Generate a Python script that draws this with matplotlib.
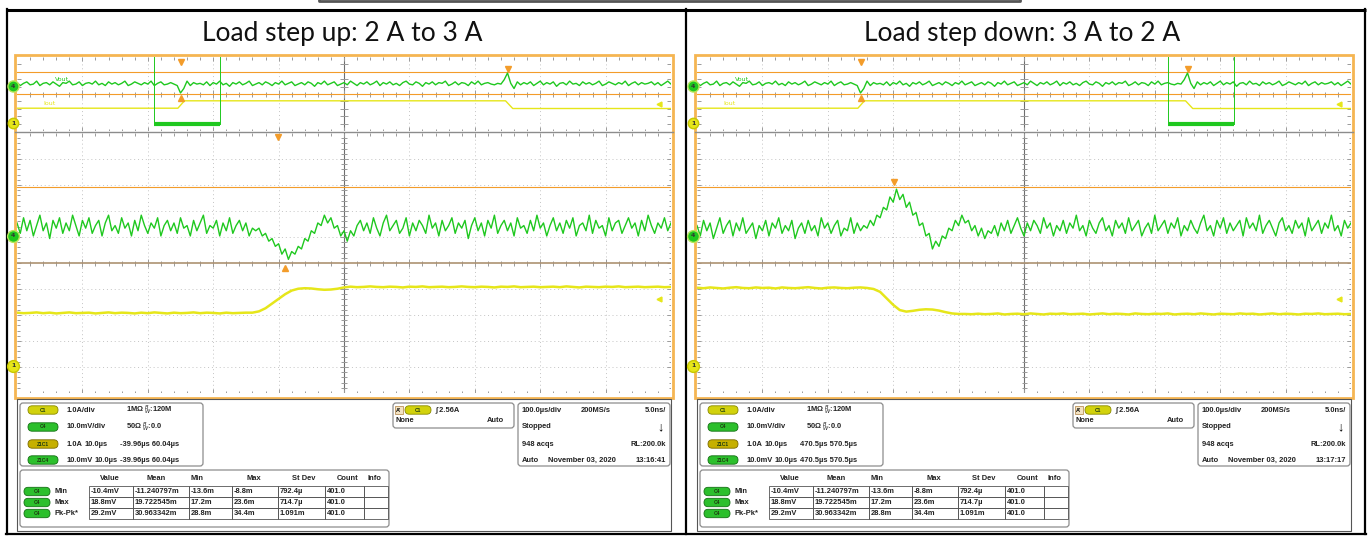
import numpy as np
import matplotlib
matplotlib.use('Agg')
import matplotlib.pyplot as plt
from matplotlib.patches import Rectangle, FancyBboxPatch
from matplotlib.collections import LineCollection
from matplotlib.transforms import blended_transform_factory
from matplotlib import font_manager as fm

# ---------------- values ----------------
titles = ['Load step up: 2 A to 3 A', 'Load step down: 3 A to 2 A']

# zoom windows (us), 10 us/div
zoom_t0 = [-39.96, 470.5]
zoom_t1 = [60.04, 570.5]
# full record shown in the overview strip (us), 100 us/div
rec_t0, rec_t1 = -250.0, 750.0

# channel offsets (div) and scales
c4_off = 1.04      # Vout, 10 mV/div
c1_off = -3.96     # Iout, 1 A/div
trig_level = 2.56  # A

# C4 Vout in zoom window, mV, 0.5 us steps
vout_up = [5, 1, 7, 2, 6, 0, 4, 8, 2, 5, -1, 6, 3, 7, 1, 5, 2, 8, 4, 0,
           6, 3, 7, 1, 4, 6, 0, 5, 8, 2, 4, 1, 7, 3, 5, 0, 6, 2, 8, 4,
           1, 5, 3, 7, 0, 4, 6, 2, 5, 1, 7, 3, 4, 0, 6, 2, 5, 8, 1, 4,
           3, 6, 0, 5, 2, 7, 1, 4, 6, 2, 5, 0, 3,
           2, 3, 0, 1, -2, -1, -4, -3, -7, -5, -9, -6, -7, -4, -5, -1,
           -2, 2, 1, 5, 4, 8, 5, 7, 3, 4, 0, 2, -2, 2, 0, 4,
           6, 2, 5, 1, 7, 3, 0, 5, 8, 2, 4, 6, 1, 3, 7, 0, 5, 2, 6, 4,
           1, 8, 3, 5, 0, 6, 2, 4, 7, 1, 5, 3, 6, -1, 4, 7, 2, 5, 0, 6,
           3, 8, 1, 4, 6, 2, 5, 0, 7, 3, 4, 1, 6, 2, 8, 3, 5, 0, 4, 7,
           2, 5, 1, 6, 3, 7, 0, 4, 5, 2, 8, 1, 6, 3, 4, 0, 7, 2, 5, 6,
           1, 4, 7, 3, 5, 0, 6, 2, 8, 4, 1, 5, 3, 7, 2, 5]
vout_down = [4, 0, 6, 2, 5, -1, 3, 7, 1, 4, 6, 0, 5, 2, 7, 1, 3, 5, -1, 4,
             2, 6, 0, 5, 3, 7, 1, 4, 2, 6, -1, 3, 5, 1, 6, 2, 4, 0, 7, 3,
             5, 1, 4, 6, 0, 3, 2, 7, 1, 5, 2, 4,
             3, 6, 4, 8, 7, 11, 10, 15, 13, 18, 14, 16, 11, 13, 8, 9, 4, 5,
             0, 1, -5, -2, -4, 0, -1, 3, 2, 6, 4, 8, 5, 6, 2, 4, 0, 3, -1, 2, 1, 4,
             0, 5, 2, 6, 1, 4, 7, 3, 0, 5, 2, 6, 4, 1, 7, 3, 5, 0, 4, 2,
             6, 1, 5, 3, 8, 2, 4, 0, 6, 3, 1, 5, 7, 2, 4, 0, 6, 3, 5, 1,
             7, 2, 4, 6, 0, 3, 5, 1, 8, 2, 4, 6, 1, 5, 3, 7, 0, 4, 2, 6,
             3, 1, 5, 8, 2, 4, 0, 6, 3, 7, 1, 5, 2, 4, 6, 0, 7, 3, 5, 2,
             8, 1, 4, 6, 3, 0, 5, 7, 2, 4, 1, 6, 3, 5, 0, 7, 2, 4, 6, 1,
             5, 3, 8, 2, 4, 0, 6, 3, 5]

# C1 Iout in zoom window, A, 1 us steps
iout_up = [2.05, 2.03, 2.04, 2.06, 2.03, 2.05, 2.02, 2.04, 2.06, 2.03,
           2.04, 2.05, 2.02, 2.04, 2.06, 2.03, 2.05, 2.04, 2.02, 2.05,
           2.03, 2.06, 2.04, 2.02, 2.05, 2.03, 2.04, 2.06, 2.03, 2.05,
           2.04, 2.02, 2.05, 2.03, 2.04, 2.05,
           2.05, 2.10, 2.22, 2.40, 2.58, 2.76, 2.90, 2.97, 2.99, 2.98,
           2.95, 2.93, 2.94, 2.97, 3.02,
           3.05, 3.03, 3.04, 3.06, 3.04, 3.03, 3.05, 3.04, 3.02, 3.05,
           3.04, 3.06, 3.03, 3.04, 3.05, 3.03, 3.04, 3.06, 3.04, 3.03,
           3.05, 3.04, 3.02, 3.05, 3.04, 3.06, 3.03, 3.04, 3.05, 3.03,
           3.04, 3.05, 3.03, 3.06, 3.04, 3.02, 3.05, 3.04, 3.03, 3.05,
           3.04, 3.06, 3.03, 3.04, 3.05, 3.03, 3.04, 3.05, 3.03, 3.04]
iout_down = [3.01, 2.99, 3.02, 3.00, 2.98, 3.01, 3.03, 3.00, 2.99, 3.02,
             3.00, 3.01, 2.98, 3.02, 3.00, 2.99, 3.01, 3.03, 3.00, 2.98,
             3.01, 3.02, 3.00, 2.99, 3.01, 3.02, 3.00,
             2.96, 2.85, 2.60, 2.35, 2.15, 2.09, 2.12, 2.16, 2.18, 2.17,
             2.13, 2.07, 2.02, 2.00, 2.00, 1.99,
             2.01, 1.99, 2.00, 2.02, 1.98, 2.00, 2.01, 1.99, 2.02, 2.00,
             1.98, 2.01, 2.00, 2.02, 1.99, 2.00, 2.01, 1.98, 2.00, 2.02,
             1.99, 2.01, 2.00, 1.98, 2.02, 2.00, 1.99, 2.01, 2.00, 2.02,
             1.98, 2.00, 2.01, 1.99, 2.02, 2.00, 1.98, 2.01, 2.00, 1.99,
             2.02, 2.00, 2.01, 1.98, 2.00, 2.02, 1.99, 2.01, 2.00, 1.98,
             2.01, 2.00, 2.02, 1.99, 2.00, 2.01, 1.99, 2.00]

# overview record, Vout mV, 5 us steps (same in both captures)
ov_vout = [5, 1, 4, 6, 2, 3, 7, 1, 4, 5, 2, 6, 3, 0, 5, 4, 7, 2, 3, 6,
           1, 4, 5, 3, 7, 2, 4, 1, 6, 3, 5, 2, 4, 7, 1, 3, 6, 4, 2, 5,
           3, 7, 1, 4, 6, 2, 3, 5,
           3, 1, -9, -3, 7, 1, 5, 3,
           4, 2, 6, 1, 5, 3, 7, 2, 4, 0, 5, 3, 6, 2, 4, 7, 1, 3, 5, 2,
           6, 4, 1, 5, 3, 7, 2, 4, 6, 1, 3, 5, 2, 6, 4, 0, 5, 3, 7, 2,
           4, 6, 1, 3, 5, 2, 7, 4, 1, 5, 3, 6, 2, 4, 7, 1, 5, 3, 6, 2,
           4, 1, 5, 7, 3, 2, 6, 4, 0, 5, 3, 6, 2, 5, 4, 7, 1, 3, 6, 2,
           5, 4, 1, 6, 3, 7, 2, 4, 5, 3,
           2, 4, 3, 9, 18, 4, -3, 6, 2,
           5, 3, 6, 1, 4, 7, 2, 5, 3, 6, 0, 4, 5, 2, 7, 3, 4, 1, 6, 3,
           5, 2, 4, 7, 1, 3, 6, 4, 2, 5, 3, 7, 1, 4, 6, 2, 5, 3, 4, 6,
           2, 5, 1, 4, 7, 3]
# overview record, Iout A (corner points of the steps)
ov_iout_t = [-250, -4, 6, 497, 508, 750]
ov_iout = [2.04, 2.04, 3.04, 3.04, 2.0, 2.0]

# measurement gates: time of min / max markers (us)
t_min = [1.0, 1.0]
t_max = [500.6, 500.6]
meas_min_mv = -10.4
meas_max_mv = 18.8

# readout panel text
ch_setup = [['C1', '1.0A/div', '1MΩ', '120M'],
            ['C4', '10.0mV/div', '50Ω', '0.0']]
zoom_setup = [['Z1C1', '1.0A', '10.0µs'], ['Z1C4', '10.0mV', '10.0µs']]
timestamps = ['13:16:41', '13:17:17']
meas_cols = ['Value', 'Mean', 'Min', 'Max', 'St Dev', 'Count', 'Info']
meas_rows = ['Min', 'Max', 'Pk-Pk*']
meas_vals = [['-10.4mV', '-11.240797m', '-13.6m', '-8.8m', '792.4µ', '401.0', ''],
             ['18.8mV', '19.722545m', '17.2m', '23.6m', '714.7µ', '401.0', ''],
             ['29.2mV', '30.963342m', '28.8m', '34.4m', '1.091m', '401.0', '']]

# ---------------- styling ----------------
GREEN = '#1fc81f'
YELLOW = '#e6e61a'
ORANGE = '#f39c2a'
BORDER = '#f5b552'
GRID = '#c4c4c4'
TICK = '#9a9a9a'

names = {f.name for f in fm.fontManager.ttflist}
FONT = [n for n in ('Liberation Sans Narrow', 'Liberation Sans') if n in names] + ['DejaVu Sans']
FS = 5.4

W, H = 1370, 536
fig = plt.figure(figsize=(W / 100, H / 100), dpi=100)
bg = fig.add_axes([0, 0, 1, 1])
bg.set_xlim(0, W)
bg.set_ylim(H, 0)
bg.axis('off')


def px_axes(x0, y0, x1, y1):
    ax = fig.add_axes([x0 / W, 1 - y1 / H, (x1 - x0) / W, (y1 - y0) / H])
    ax.axis('off')
    return ax


def graticule(ax, ppx, ppy, yminor=True, hgrid=True):
    a, b = ax.get_xlim()
    dt = (b - a) / 10
    hx = dt / ppx
    hy = 1.0 / ppy
    for k in range(1, 10):
        if k != 5:
            ax.axvline(a + k * dt, color=GRID, lw=0.7, ls=(0, (1, 3)), zorder=1)
    if hgrid:
        for k in range(-4, 5):
            if k != 0:
                ax.axhline(k, color=GRID, lw=0.7, ls=(0, (1, 3)), zorder=1)
    ax.axvline(a + 5 * dt, color='#6e6e6e', lw=0.8, zorder=1)
    segs = []
    for j in range(1, 50):
        x = a + j * dt / 5
        L = 4 if j % 5 == 0 else 2.5
        segs.append([(x, -L * hy), (x, L * hy)])
        segs.append([(x, 5), (x, 5 - L * hy)])
        segs.append([(x, -5), (x, -5 + L * hy)])
    ys = np.arange(-24, 25) / 5 if yminor else np.arange(-4, 5)
    for y in ys:
        L = 4 if abs(y - round(y)) < 1e-6 else 2.5
        c = a + 5 * dt
        segs.append([(c - L * hx, y), (c + L * hx, y)])
        segs.append([(a, y), (a + L * hx, y)])
        segs.append([(b, y), (b - L * hx, y)])
    ax.add_collection(LineCollection(segs, colors=TICK, lw=0.7, zorder=1))


def ch_marker(ax, y, label, fc, ring, size=8.5):
    tr = blended_transform_factory(ax.transAxes, ax.transData)
    ax.plot([-0.006], [y], 'o', ms=size, mfc=fc, mec=ring, mew=1.0,
            transform=tr, clip_on=False, zorder=8)
    ax.text(-0.006, y, label, transform=tr, ha='center', va='center',
            fontsize=4.5, color='#333333', weight='bold', zorder=9)


def level_marker(ax, y):
    tr = blended_transform_factory(ax.transAxes, ax.transData)
    ax.plot([0.982], [y], marker='<', ms=3.5, color=YELLOW, transform=tr,
            clip_on=False, zorder=8)


def txt(x, y, s, ha='left', size=FS, color='#222222'):
    bg.text(x, y, s, ha=ha, va='center', fontsize=size, weight='bold',
            family=FONT, color=color)


def rbox(x0, y0, x1, y1, r=3):
    bg.add_patch(FancyBboxPatch((x0, y0), x1 - x0, y1 - y0,
                                boxstyle='round,pad=0,rounding_size=%g' % r,
                                fc='white', ec='#8c8c8c', lw=0.9))


def pill(x, y, w, label, fc, ec):
    bg.add_patch(FancyBboxPatch((x, y - 4.2), w, 8.4,
                                boxstyle='round,pad=0,rounding_size=4.2',
                                fc=fc, ec=ec, lw=0.6))
    bg.text(x + w / 2, y, label, ha='center', va='center', fontsize=3.6,
            weight='bold', family=FONT, color='#1d3a10')


PILL_Y = ('#d2d20c', '#8a8a00')
PILL_G = ('#2cbf2c', '#137013')
PILL_Z = ('#c6b000', '#7a6a00')

# ---------------- page table ----------------
bg.plot([6, 1366], [9.5, 9.5], color='black', lw=2.2, solid_capstyle='butt')
for x in (7, 686, 1365):
    bg.plot([x, x], [9, 534], color='black', lw=1.6)
bg.plot([6, 1366], [533.5, 533.5], color='black', lw=1.6)
bg.plot([319, 319, 1020, 1020], [0, 1, 1, 0], color='#555555', lw=2)

for p in range(2):
    dx = 680 * p
    t0, t1 = zoom_t0[p], zoom_t1[p]
    vout = np.array(vout_up if p == 0 else vout_down, dtype=float)
    iout = np.array(iout_up if p == 0 else iout_down, dtype=float)

    bg.text(342 + dx, 34, titles[p], ha='center', va='center', fontsize=19,
            family=['Lato', 'DejaVu Sans'], color='#111111')

    # scope screen frame
    bg.add_patch(Rectangle((15 + dx, 55), 658, 343, fill=False, ec=BORDER, lw=2.0))
    bg.plot([15 + dx, 673 + dx], [132, 132], color='#8c8c8c', lw=1.0)

    # ---------- overview strip ----------
    ov = px_axes(17 + dx, 57, 671 + dx, 131)
    ov.set_xlim(rec_t0, rec_t1)
    ov.set_ylim(-5, 5)
    graticule(ov, 65.4, 7.4, yminor=False, hgrid=False)
    ov.axhline(c4_off + meas_max_mv / 10, color=ORANGE, lw=0.8, zorder=2)
    ov.axhline(c4_off + meas_min_mv / 10, color=ORANGE, lw=0.8, zorder=2)
    tov = np.linspace(rec_t0, rec_t1, len(ov_vout))
    ov.plot(tov, c4_off + np.array(ov_vout) / 10, color=GREEN, lw=1.0, zorder=4)
    ov.plot(ov_iout_t, c1_off + np.array(ov_iout), color=YELLOW, lw=1.0, zorder=3)
    ov.plot([t0, t0], [-4.1, 5], color=GREEN, lw=0.7, zorder=3)
    ov.plot([t1, t1], [-4.1, 5], color=GREEN, lw=0.7, zorder=3)
    ov.plot([t0, t1], [-4.1, -4.1], color=GREEN, lw=3, solid_capstyle='butt', zorder=3)
    ov.plot([0], [4.3], 'v', ms=4.5, color=ORANGE, zorder=6)
    ov.plot([t_min[p]], [c4_off + meas_min_mv / 10 - 0.6], '^', ms=4.5, color=ORANGE, zorder=6)
    ov.plot([t_max[p]], [c4_off + meas_max_mv / 10 + 0.5], 'v', ms=4.5, color=ORANGE, zorder=6)
    ov.text(0.058, 2.0, 'Vout', transform=blended_transform_factory(ov.transAxes, ov.transData),
            fontsize=4.5, color=GREEN, va='center')
    ov.text(0.041, -1.35, 'Iout', transform=blended_transform_factory(ov.transAxes, ov.transData),
            fontsize=4.5, color=YELLOW, va='center')
    ch_marker(ov, c4_off, '4', GREEN, '#b6e65a', size=8)
    ch_marker(ov, c1_off, '1', YELLOW, '#c8c800', size=7.5)
    level_marker(ov, c1_off + trig_level)

    # ---------- zoomed main window ----------
    mn = px_axes(17 + dx, 133, 671 + dx, 393)
    mn.set_xlim(t0, t1)
    mn.set_ylim(-5, 5)
    graticule(mn, 65.4, 26)
    mn.axhline(c4_off + meas_max_mv / 10, color=ORANGE, lw=0.8, zorder=2)
    mn.axhline(c4_off + meas_min_mv / 10, color='#ad9272', lw=1.2, zorder=2)
    tv = np.linspace(t0, t1, len(vout))
    mn.plot(tv, c4_off + vout / 10, color=GREEN, lw=1.0, zorder=4)
    ti = np.linspace(t0, t1, len(iout))
    mn.plot(ti, c1_off + iout, color=YELLOW, lw=1.8, zorder=3)
    if t0 <= 0 <= t1:
        mn.plot([0], [4.85], 'v', ms=4.5, color=ORANGE, zorder=6, clip_on=False)
    if t0 <= t_min[p] <= t1:
        mn.plot([t_min[p]], [c4_off + meas_min_mv / 10 - 0.2], '^', ms=5, color=ORANGE, zorder=6)
    if t0 <= t_max[p] <= t1:
        mn.plot([t_max[p]], [c4_off + meas_max_mv / 10 + 0.2], 'v', ms=5, color=ORANGE, zorder=6)
    ch_marker(mn, c4_off, '4', GREEN, '#b6e65a')
    ch_marker(mn, c1_off, '1', YELLOW, '#c8c800')
    level_marker(mn, c1_off + trig_level)

    # ---------- readout area ----------
    bg.add_patch(Rectangle((17 + dx, 399), 654, 132, fill=False, ec='#555555', lw=0.8))

    # channel setup box
    rbox(20 + dx, 403, 203 + dx, 466)
    rows_y = [410, 427, 444, 460]
    for r, (lab, scale, imp, bw) in enumerate(ch_setup):
        pill(28 + dx, rows_y[r], 30, lab, *(PILL_Y if r == 0 else PILL_G))
        txt(67 + dx, rows_y[r], scale)
        txt(126 + dx, rows_y[r], imp + ' $^{B}_{W}$:' + bw)
    zpos = '%gµs %gµs' % (t0, t1)
    for r, (lab, sc, tdiv) in enumerate(zoom_setup):
        y = rows_y[r + 2]
        pill(28 + dx, y, 30, lab, *(PILL_Z if r == 0 else PILL_G))
        txt(67 + dx, y, sc)
        txt((85 if r == 0 else 95) + dx, y, tdiv)
        txt(120 + dx, y, zpos)

    # trigger box
    rbox(393 + dx, 403, 514 + dx, 428)
    bg.add_patch(Rectangle((395 + dx, 406), 8, 8, fc='#f3e3c3', ec='#b08040', lw=0.5))
    bg.text(399 + dx, 410, "A'", ha='center', va='center', fontsize=4, weight='bold', family=FONT)
    pill(405 + dx, 410, 26, 'C1', *PILL_Y)
    txt(436 + dx, 410, '∫ %.2fA' % trig_level)
    txt(396 + dx, 421, 'None')
    txt(495 + dx, 421, 'Auto', ha='center')

    # timebase box
    rbox(518 + dx, 403, 670 + dx, 466)
    txt(522 + dx, 410, '100.0µs/div')
    txt(581 + dx, 410, '200MS/s')
    txt(666 + dx, 410, '5.0ns/', ha='right')
    txt(522 + dx, 427, 'Stopped')
    txt(660 + dx, 427, '↓', ha='center', size=9, color='black')
    txt(522 + dx, 444, '948 acqs')
    txt(666 + dx, 444, 'RL:200.0k', ha='right')
    txt(522 + dx, 460, 'Auto')
    txt(548 + dx, 460, 'November 03, 2020')
    txt(666 + dx, 460, timestamps[p], ha='right')

    # measurement table
    rbox(20 + dx, 470, 389 + dx, 527)
    head_x = [110, 156, 197, 254, 304, 348, 374]
    for hx, h in zip(head_x, meas_cols):
        txt(hx + dx, 479, h, ha='center')
    col_x = [89, 133, 189, 232, 278, 325, 364, 388]
    row_y = [486, 497, 508, 519]
    for r, lab in enumerate(meas_rows):
        yc = (row_y[r] + row_y[r + 1]) / 2
        pill(24 + dx, yc, 26, 'C4', *PILL_G)
        txt(55 + dx, yc, lab)
        for c, v in enumerate(meas_vals[r]):
            bg.add_patch(Rectangle((col_x[c] + dx, row_y[r]), col_x[c + 1] - col_x[c],
                                   row_y[r + 1] - row_y[r], fill=False, ec='#555555', lw=0.6))
            txt(col_x[c] + 1.5 + dx, yc, v)

fig.savefig('out.png', dpi=100, facecolor='white')
